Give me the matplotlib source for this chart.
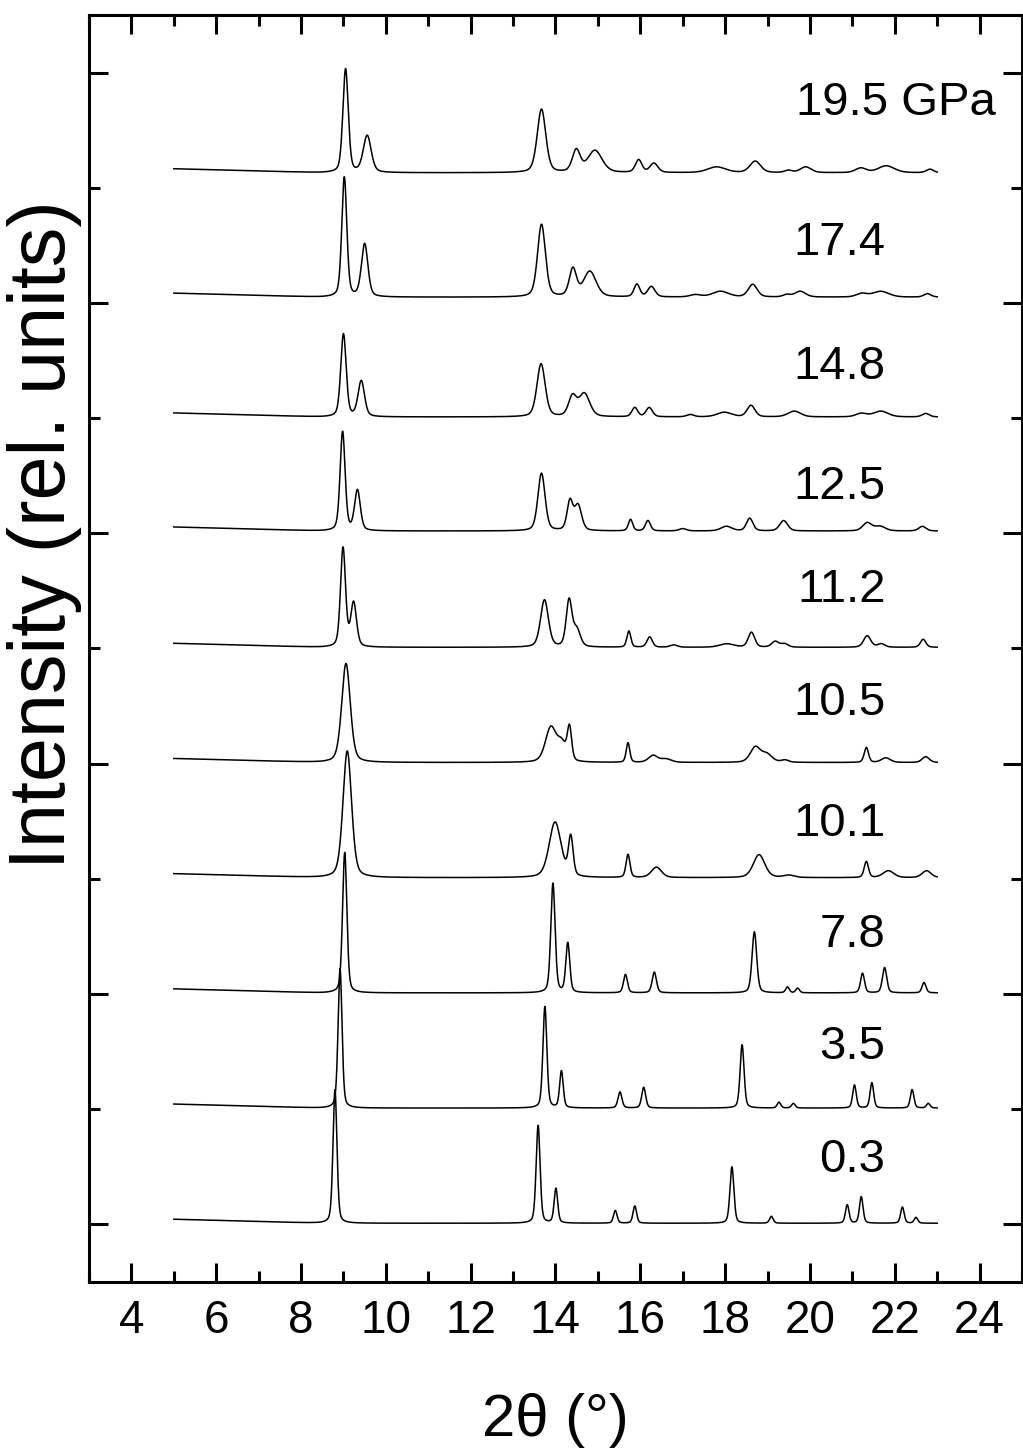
#!/usr/bin/env python3
"""Stacked XRD patterns under pressure (2theta vs intensity)."""

import matplotlib
matplotlib.use("Agg")
import matplotlib.pyplot as plt
import numpy as np
from matplotlib.ticker import MultipleLocator, NullFormatter

plt.rcParams["font.family"] = ["Liberation Sans", "DejaVu Sans"]

# pressures (GPa), bottom to top, and the vertical offset of each pattern
pressures = ["0.3", "3.5", "7.8", "10.1", "10.5", "11.2", "12.5", "14.8", "17.4", "19.5"]
offsets = [0.01, 1.01, 2.01, 3.01, 4.01, 5.01, 6.02, 7.01, 8.05, 9.13]
label_y = [0.56, 1.54, 2.51, 3.48, 4.53, 5.51, 6.40, 7.44, 8.52, 9.74]

# peaks: (2theta, height, FWHM)
peaks_03 = [(8.80, 1.16, 0.11), (13.59, 0.85, 0.11), (14.01, 0.30, 0.10), (15.41, 0.11, 0.10),
            (15.87, 0.15, 0.10), (18.16, 0.49, 0.11), (19.09, 0.06, 0.10), (20.88, 0.16, 0.10),
            (21.21, 0.23, 0.10), (22.18, 0.14, 0.10), (22.50, 0.05, 0.10)]
peaks_35 = [(8.92, 1.21, 0.11), (13.75, 0.88, 0.11), (14.14, 0.32, 0.10), (15.52, 0.14, 0.11),
            (16.08, 0.18, 0.11), (18.40, 0.55, 0.11), (19.27, 0.05, 0.10), (19.61, 0.04, 0.10),
            (21.05, 0.20, 0.10), (21.46, 0.22, 0.10), (22.41, 0.16, 0.10), (22.79, 0.04, 0.10)]
peaks_78 = [(9.03, 1.22, 0.12), (13.94, 0.95, 0.12), (14.29, 0.43, 0.11), (15.65, 0.16, 0.11),
            (16.33, 0.18, 0.12), (18.69, 0.53, 0.13), (19.47, 0.05, 0.10), (19.71, 0.04, 0.10),
            (21.24, 0.17, 0.11), (21.76, 0.22, 0.12), (22.69, 0.09, 0.11)]
peaks_101 = [(9.09, 1.10, 0.24), (13.99, 0.48, 0.33), (14.36, 0.34, 0.13), (15.71, 0.20, 0.11),
             (16.38, 0.09, 0.28), (18.80, 0.20, 0.32), (19.50, 0.02, 0.30), (21.33, 0.14, 0.12),
             (21.85, 0.06, 0.30), (22.75, 0.06, 0.25)]
peaks_105 = [(9.06, 0.86, 0.24), (13.89, 0.30, 0.30), (14.15, 0.15, 0.25), (14.33, 0.28, 0.12),
             (15.71, 0.17, 0.10), (16.30, 0.06, 0.25), (16.60, 0.03, 0.30), (18.71, 0.13, 0.28),
             (18.98, 0.07, 0.30), (19.41, 0.02, 0.20), (21.33, 0.13, 0.12), (21.79, 0.04, 0.25),
             (22.73, 0.05, 0.20)]
peaks_112 = [(8.99, 0.86, 0.14), (9.24, 0.38, 0.16), (13.74, 0.41, 0.22), (14.32, 0.40, 0.16),
             (14.50, 0.15, 0.20), (15.73, 0.14, 0.11), (16.22, 0.09, 0.15), (16.79, 0.02, 0.20),
             (18.04, 0.03, 0.40), (18.62, 0.13, 0.18), (19.18, 0.05, 0.20), (19.40, 0.03, 0.20),
             (21.35, 0.10, 0.20), (21.68, 0.03, 0.20), (22.67, 0.07, 0.15)]
peaks_125 = [(8.98, 0.86, 0.14), (9.33, 0.35, 0.16), (13.67, 0.50, 0.20), (14.34, 0.25, 0.16),
             (14.53, 0.22, 0.20), (15.77, 0.10, 0.12), (16.18, 0.09, 0.14), (17.00, 0.02, 0.20),
             (18.03, 0.04, 0.30), (18.58, 0.11, 0.18), (19.38, 0.09, 0.22), (21.35, 0.07, 0.25),
             (21.65, 0.04, 0.30), (22.65, 0.04, 0.20)]
peaks_148 = [(9.00, 0.72, 0.15), (9.42, 0.31, 0.18), (13.66, 0.46, 0.23), (14.40, 0.17, 0.22),
             (14.68, 0.20, 0.30), (15.87, 0.08, 0.16), (16.21, 0.08, 0.18), (17.18, 0.02, 0.20),
             (17.98, 0.04, 0.40), (18.61, 0.10, 0.22), (19.63, 0.05, 0.35), (21.21, 0.03, 0.30),
             (21.67, 0.05, 0.40), (22.73, 0.03, 0.20)]
peaks_174 = [(9.02, 1.04, 0.14), (9.50, 0.46, 0.18), (13.67, 0.63, 0.22), (14.41, 0.24, 0.20),
             (14.81, 0.22, 0.35), (15.92, 0.11, 0.16), (16.26, 0.09, 0.20), (17.30, 0.02, 0.30),
             (17.89, 0.05, 0.45), (18.65, 0.11, 0.25), (19.45, 0.02, 0.20), (19.77, 0.05, 0.30),
             (21.22, 0.03, 0.30), (21.67, 0.05, 0.45), (22.77, 0.03, 0.20)]
peaks_195 = [(9.05, 0.90, 0.15), (9.56, 0.32, 0.22), (13.67, 0.55, 0.24), (14.49, 0.19, 0.22),
             (14.93, 0.19, 0.40), (15.96, 0.11, 0.18), (16.32, 0.08, 0.22), (17.80, 0.05, 0.50),
             (18.71, 0.10, 0.30), (19.49, 0.02, 0.20), (19.90, 0.05, 0.30), (21.20, 0.04, 0.30),
             (21.80, 0.06, 0.45), (22.83, 0.03, 0.20)]
all_peaks = [peaks_03, peaks_35, peaks_78, peaks_101, peaks_105,
             peaks_112, peaks_125, peaks_148, peaks_174, peaks_195]

# slight background rise at the low-angle end
bg_x = [5.0, 8.5, 23.0]
bg_y = [0.035, 0.0, 0.0]

x_ticks = [4, 6, 8, 10, 12, 14, 16, 18, 20, 22, 24]


def pattern(x, peaks, eta=0.35):
    """pseudo-Voigt sum of the listed peaks"""
    y = np.zeros_like(x)
    for pos, amp, w in peaks:
        g = np.exp(-4 * np.log(2) * ((x - pos) / w) ** 2)
        l = 1.0 / (1.0 + 4 * ((x - pos) / w) ** 2)
        y += amp * (eta * l + (1 - eta) * g)
    return y


fig = plt.figure(figsize=(10.23, 14.55), dpi=100)
ax = fig.add_axes([0.087, 0.1189, 0.912, 0.8708])

x = np.linspace(5.0, 23.0, 4000)
bg = np.interp(x, bg_x, bg_y)
for off, peaks in zip(offsets, all_peaks):
    ax.plot(x, off + bg + pattern(x, peaks), color="black", lw=1.1)

for i, (p, ly) in enumerate(zip(pressures, label_y)):
    if i == len(pressures) - 1:
        ax.text(19.66, ly, p + " GPa", ha="left", va="center", fontsize=34)
    else:
        ax.text(21.78, ly, p, ha="right", va="center", fontsize=34)

ax.set_xlim(3, 25)
ax.set_ylim(-0.5, 10.5)
ax.set_xticks(x_ticks)
ax.xaxis.set_minor_locator(MultipleLocator(1))
ax.yaxis.set_major_locator(MultipleLocator(2))
ax.yaxis.set_minor_locator(MultipleLocator(1))
ax.yaxis.set_major_formatter(NullFormatter())

ax.tick_params(which="both", direction="in", top=True, right=True, width=2.2)
ax.tick_params(which="major", length=14, labelsize=33, pad=12)
ax.tick_params(which="minor", length=8)
for s in ax.spines.values():
    s.set_linewidth(2.2)

ax.set_xlabel("2θ (°)", fontsize=43, labelpad=36)
# y label sits above the axes centre in the original
fig.text(45 / 1023, 1 - 535 / 1455, "Intensity (rel. units)", rotation=90,
         ha="center", va="center", fontsize=57)

fig.savefig("out.png", dpi=100)
